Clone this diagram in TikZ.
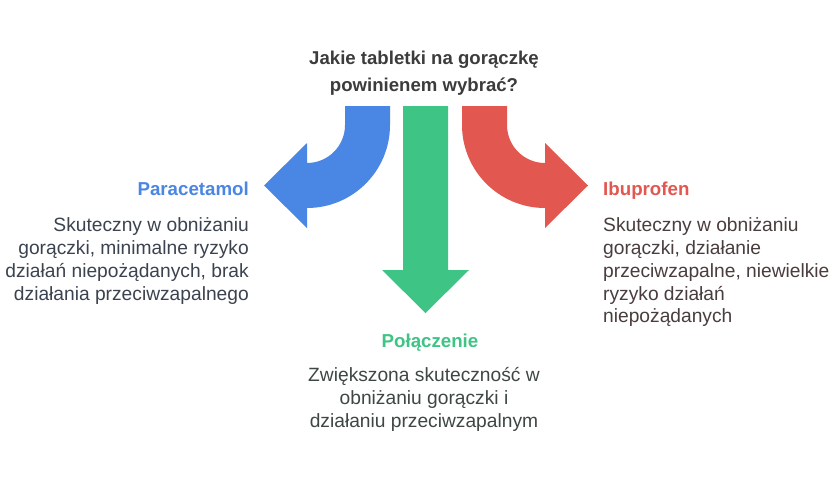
\documentclass[tikz,border=0pt]{standalone}
\usepackage{fontspec}
\setmainfont{Liberation Sans}
\definecolor{cblue}{HTML}{4A86E3}
\definecolor{cgreen}{HTML}{3EC484}
\definecolor{cred}{HTML}{E2574F}
\definecolor{ctextl}{HTML}{3C4350}
\definecolor{ctextr}{HTML}{4A3D3D}
\definecolor{ctextb}{HTML}{3E4743}
\definecolor{ctitle}{HTML}{3C3C3C}
\begin{document}
\begin{tikzpicture}[x=1pt,y=-1pt,
  headtxt/.style={font=\fontsize{18.7}{22}\selectfont\bfseries, inner sep=0pt},
  bodytxt/.style={font=\fontsize{19.2}{22.8}\selectfont, inner sep=0pt}]
\useasboundingbox[fill=white] (0,0) rectangle (840,480);
% title
\node[headtxt, text=ctitle, align=center, anchor=north,
      font=\fontsize{18.6}{27}\selectfont\bfseries] (title) at (424,50.5)
  {Jakie tabletki na gorączkę\\powinienem wybrać?};
% blue arrow
\fill[cblue] (345,106) -- (390,106) -- (390,125)
  arc[start angle=0,end angle=90,radius=83] -- (307,228) -- (264,185.5)
  -- (307,143) -- (307,163) arc[start angle=90,end angle=0,radius=38] -- cycle;
% green arrow
\fill[cgreen] (403,106) -- (448,106) -- (448,270) -- (469,270) -- (425.5,313)
  -- (382,270) -- (403,270) -- cycle;
% red arrow
\fill[cred] (507,106) -- (462,106) -- (462,125)
  arc[start angle=180,end angle=90,radius=83] -- (545,228) -- (588,185.5)
  -- (545,143) -- (545,163) arc[start angle=90,end angle=180,radius=38] -- cycle;
% left
\node[headtxt, text=cblue, anchor=base east] (para) at (249,195) {Paracetamol};
\node[bodytxt, text=ctextl, align=right, anchor=north east] (parab) at (249,217.5)
  {Skuteczny w obniżaniu\\gorączki, minimalne ryzyko\\działań niepożądanych, brak\\działania przeciwzapalnego};
% right
\node[headtxt, text=cred, anchor=base west] (ibu) at (603,195) {Ibuprofen};
\node[bodytxt, text=ctextr, align=left, anchor=north west] (ibub) at (603,217.5)
  {Skuteczny w obniżaniu\\gorączki, działanie\\przeciwzapalne, niewielkie\\ryzyko działań\\niepożądanych};
% bottom
\node[headtxt, text=cgreen, anchor=base] (pol) at (430,347) {Połączenie};
\node[bodytxt, text=ctextb, align=center, anchor=north] (polb) at (424,367.5)
  {Zwiększona skuteczność w\\obniżaniu gorączki i\\działaniu przeciwzapalnym};
\end{tikzpicture}
\end{document}
